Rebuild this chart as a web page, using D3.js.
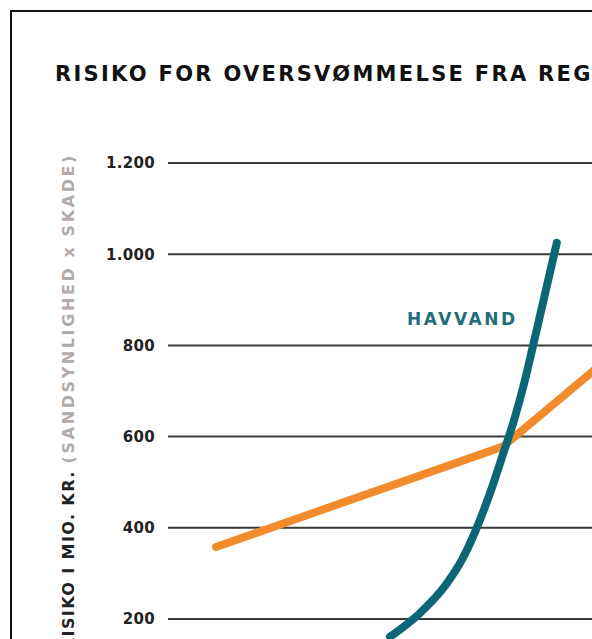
<!DOCTYPE html>
<html>
<head>
<meta charset="utf-8">
<script src="https://cdn.jsdelivr.net/npm/d3@7"></script>
<style>
  body { margin: 0; overflow: hidden; background: #fff; }
</style>
</head>
<body>
<div id="chart"></div>
<script>
// Data (x = position along the hidden x-axis, y = risk in mio. kr.)
const yTicks = [200, 400, 600, 800, 1000, 1200];
const havvandX = [37, 42, 46.2, 49, 51.3, 53.7, 55.8, 57.7, 59.3, 60.8, 62.8, 64.8];
const havvandY = [161, 213, 273, 330, 395, 477, 560, 637, 714, 797, 911, 1025];
const regnvandX = [8, 55.8, 70.7, 80.3];
const regnvandY = [358, 578, 742, 850];

const title = "RISIKO FOR OVERSVØMMELSE FRA REGNVAND OG HAVVAND";

// Chart-Dimensionen
const svgW = 900, svgH = 800;

const svg = d3.select("#chart").append("svg")
    .attr("width", svgW)
    .attr("height", svgH);

// Rahmen
svg.append("rect")
    .attr("x", 11).attr("y", 11)
    .attr("width", 1000).attr("height", 1000)
    .attr("fill", "none")
    .attr("stroke", "#111")
    .attr("stroke-width", 2);

// Titel
svg.append("text")
    .attr("x", 55)
    .attr("y", 81)
    .attr("font-family", "DejaVu Sans")
    .attr("font-weight", "bold")
    .attr("font-size", "21px")
    .attr("letter-spacing", "2.3px")
    .attr("fill", "#111")
    .text(title);

// Skalen
const x = d3.scaleLinear().domain([0, 100]).range([168, 768]);
const y = d3.scaleLinear().domain([0, 1200]).range([710.2, 163]);

// Achse (nur Beschriftung)
const yAxis = d3.axisLeft(y)
    .tickValues(yTicks)
    .tickSize(0)
    .tickPadding(13)
    .tickFormat(d => d3.format(",")(d).replace(",", "."));

const gAxis = svg.append("g")
    .attr("transform", "translate(168,0)")
    .call(yAxis);
gAxis.select(".domain").remove();
gAxis.selectAll("text")
    .attr("font-family", "DejaVu Sans")
    .attr("font-weight", "bold")
    .attr("font-size", "15px")
    .attr("letter-spacing", "0.3px")
    .attr("fill", "#222");

// Gitterlinien
svg.append("g")
    .selectAll("line")
    .data(yTicks)
    .join("line")
    .attr("x1", 168)
    .attr("x2", svgW)
    .attr("y1", d => y(d))
    .attr("y2", d => y(d))
    .attr("stroke", "#3a3a3a")
    .attr("stroke-width", 2);

// Y-Achsentitel
const yLabel = svg.append("text")
    .attr("transform", "translate(74,153) rotate(-90)")
    .attr("text-anchor", "end")
    .attr("font-family", "DejaVu Sans")
    .attr("font-weight", "bold")
    .attr("font-size", "16px");
yLabel.append("tspan").attr("fill", "#222").attr("letter-spacing", "1.4px").text("RISIKO I MIO. KR. ");
yLabel.append("tspan").attr("fill", "#b3aaa7").attr("letter-spacing", "2.6px").text("(SANDSYNLIGHED x SKADE)");

// Linien
const lineSmooth = d3.line()
    .x(d => x(d[0]))
    .y(d => y(d[1]))
    .curve(d3.curveMonotoneX);

const lineStraight = d3.line()
    .x(d => x(d[0]))
    .y(d => y(d[1]));

svg.append("path")
    .datum(regnvandX.map((v, i) => [v, regnvandY[i]]))
    .attr("d", lineStraight)
    .attr("fill", "none")
    .attr("stroke", "#f28b2c")
    .attr("stroke-width", 8)
    .attr("stroke-linecap", "round")
    .attr("stroke-linejoin", "round");

svg.append("path")
    .datum(havvandX.map((v, i) => [v, havvandY[i]]))
    .attr("d", lineSmooth)
    .attr("fill", "none")
    .attr("stroke", "#0b6677")
    .attr("stroke-width", 8)
    .attr("stroke-linecap", "round")
    .attr("stroke-linejoin", "round");

// Beschriftung
svg.append("text")
    .attr("x", 407)
    .attr("y", 325)
    .attr("font-family", "DejaVu Sans")
    .attr("font-weight", "bold")
    .attr("font-size", "17px")
    .attr("textLength", 108)
    .attr("lengthAdjust", "spacing")
    .attr("fill", "#1f6e78")
    .text("HAVVAND");
</script>
</body>
</html>
